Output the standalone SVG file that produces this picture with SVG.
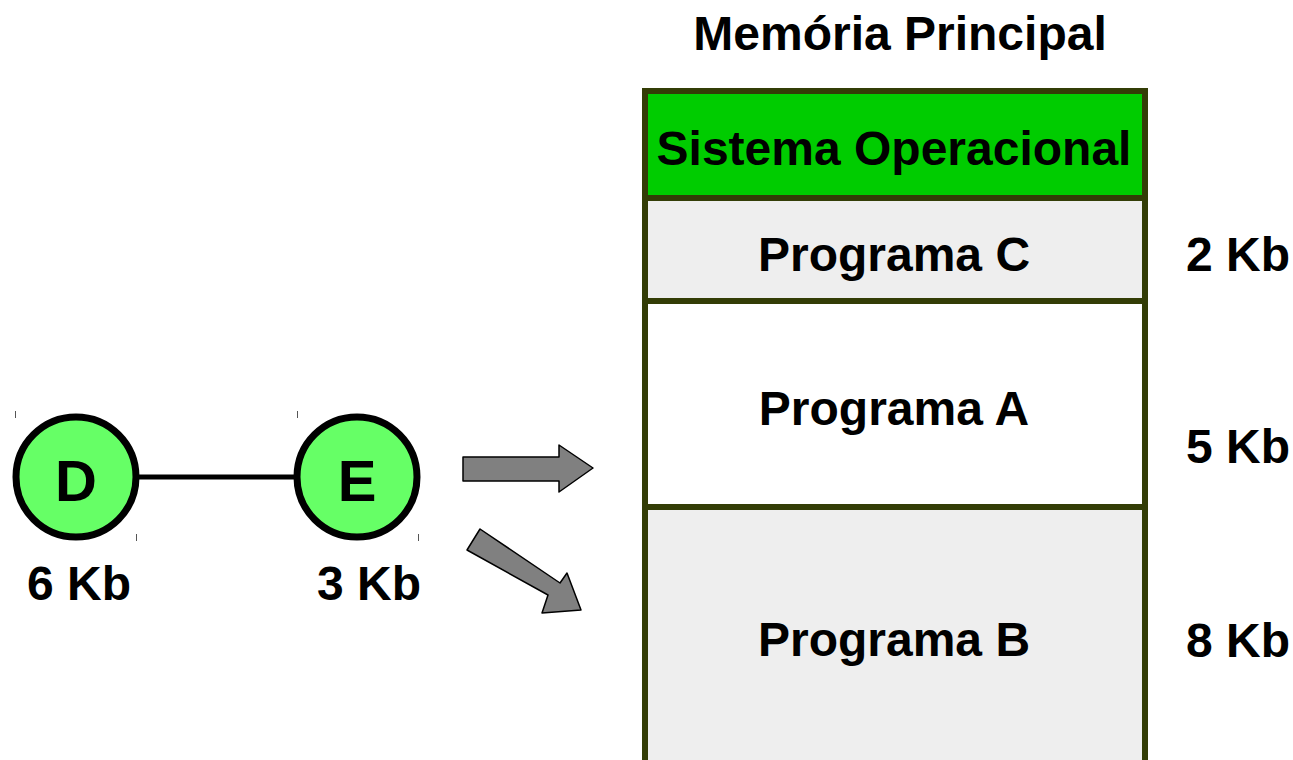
<svg xmlns="http://www.w3.org/2000/svg" width="1293" height="760" viewBox="0 0 1293 760">
<style>
text{font-family:"Liberation Sans",Arial,sans-serif;font-weight:bold;font-size:48px;fill:#000}
.mid{text-anchor:middle}
.big{font-size:58px}
.seg{stroke:#333d06;stroke-width:6}
.node{fill:#66ff66;stroke:#000;stroke-width:7}
.arrow{fill:#808080;stroke:#000;stroke-width:1.5;stroke-linejoin:round}
.tick{stroke:#555;stroke-width:1}
</style>
<rect width="1293" height="760" fill="#fff"/>
<text id="title" class="mid" x="900" y="50">Memória Principal</text>
<g id="memory">
<g id="so"><rect class="seg" x="645" y="91" width="500" height="107" fill="#00cc00"/><text class="mid" x="894" y="165">Sistema Operacional</text></g>
<g id="progC"><rect class="seg" x="645" y="198" width="500" height="103" fill="#eeeeee"/><text class="mid" x="894" y="271">Programa C</text></g>
<g id="progA"><rect class="seg" x="645" y="301" width="500" height="206" fill="#ffffff"/><text class="mid" x="894" y="425">Programa A</text></g>
<g id="progB"><path class="seg" d="M645,770 V507 H1145 V770" fill="#eeeeee"/><text class="mid" x="894" y="656">Programa B</text></g>
</g>
<g id="sizes">
<text x="1186" y="271">2 Kb</text>
<text x="1186" y="463">5 Kb</text>
<text x="1186" y="657">8 Kb</text>
</g>
<g id="connectors">
<line x1="138" y1="477" x2="295" y2="477" stroke="#000" stroke-width="5"/>
<path class="arrow" d="M463,457 H559 V445 L593,468 L559,492 V481 H463 Z"/>
<path class="arrow" d="M480,529 L560,583 L567,573 L581,610 L542,613 L548,595 L467,550 Z"/>
</g>
<g id="nodeD"><circle class="node" cx="76" cy="477" r="60"/><text class="mid big" x="76" y="501">D</text><text x="27" y="600">6 Kb</text></g>
<g id="nodeE"><circle class="node" cx="357" cy="477" r="60"/><text class="mid big" x="357" y="501">E</text><text x="317" y="600">3 Kb</text></g>
<g id="ticks">
<line class="tick" x1="15.5" y1="411" x2="15.5" y2="418"/>
<line class="tick" x1="297.5" y1="411" x2="297.5" y2="418"/>
<line class="tick" x1="136.5" y1="534" x2="136.5" y2="541"/>
<line class="tick" x1="418.5" y1="534" x2="418.5" y2="541"/>
</g>
</svg>
